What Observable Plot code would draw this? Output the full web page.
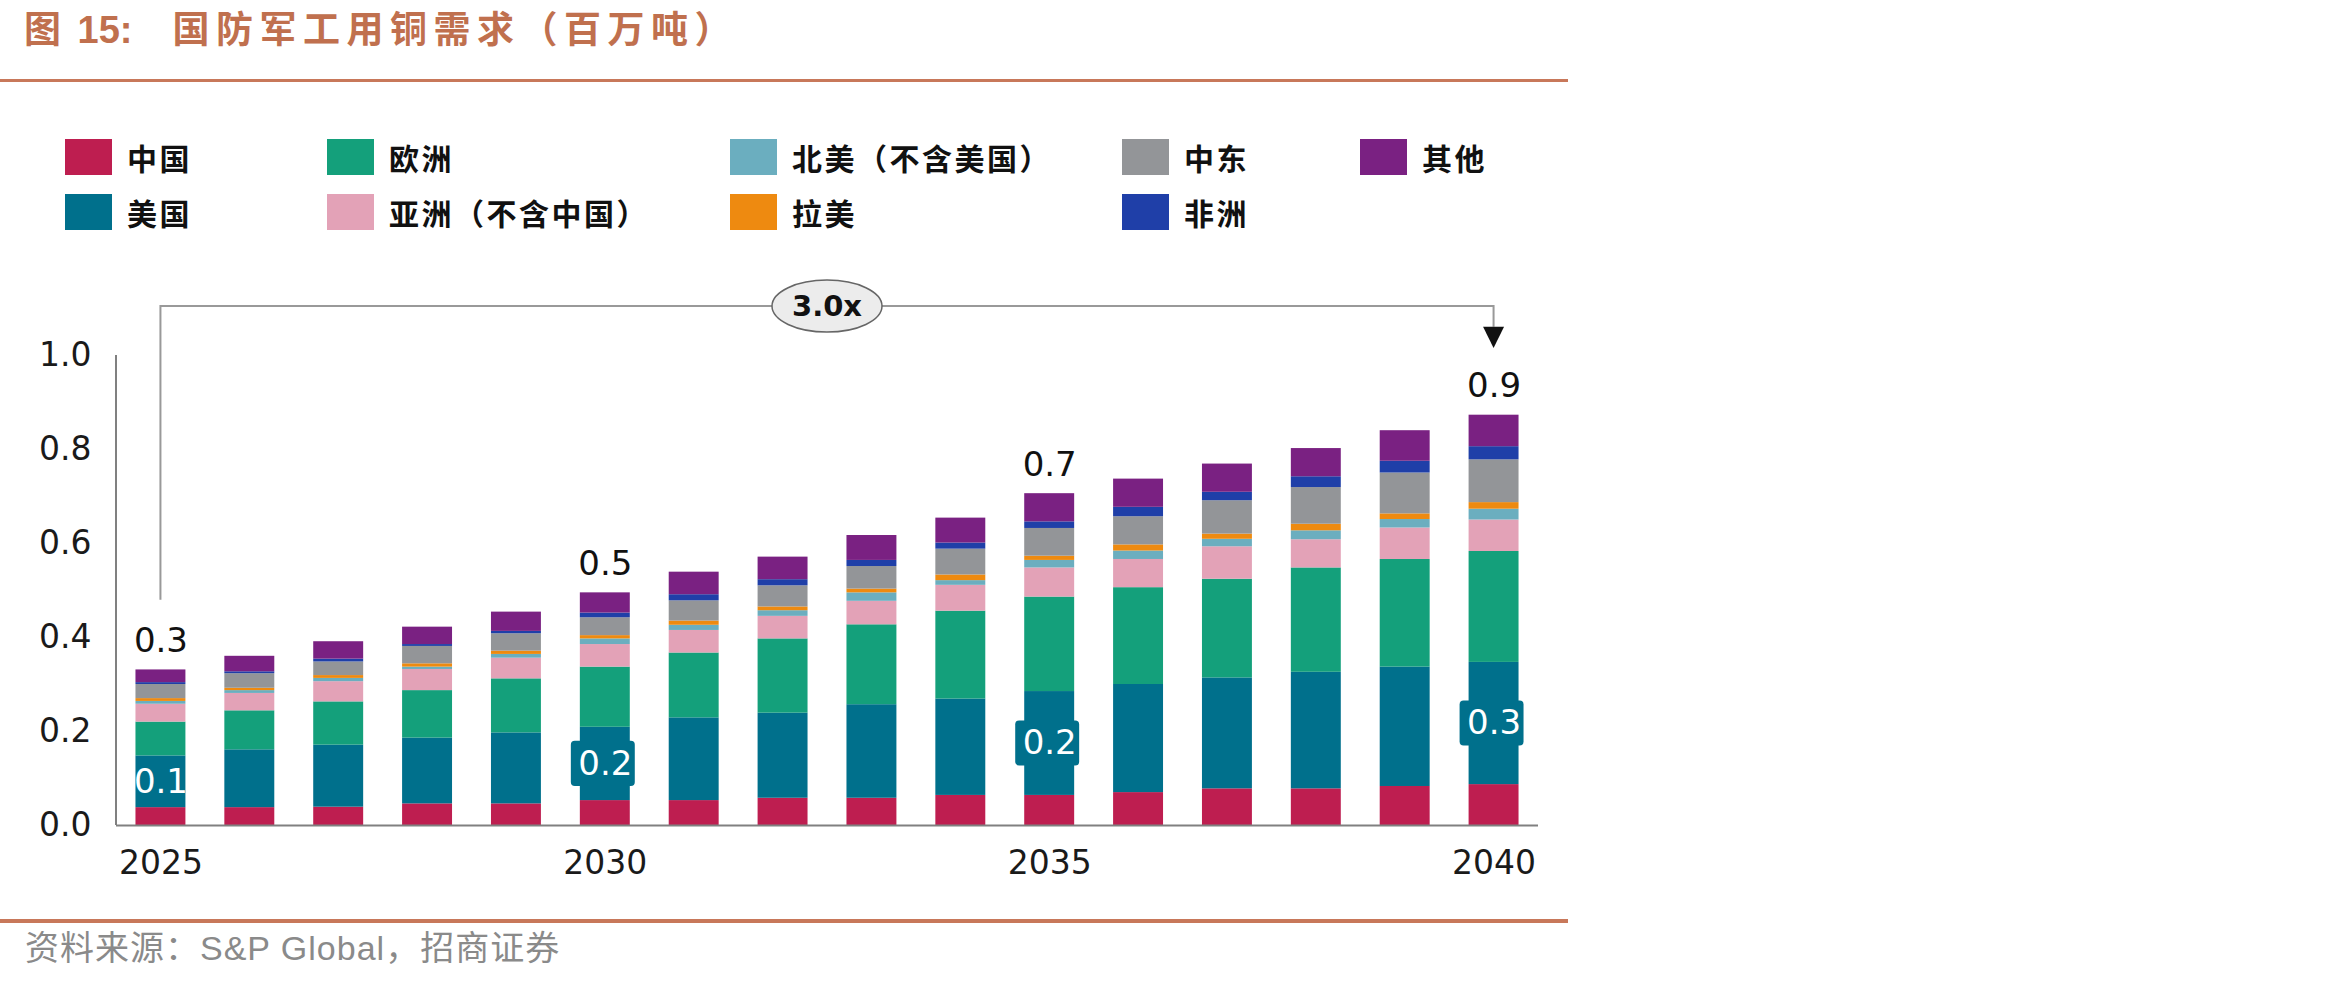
<!DOCTYPE html>
<html><head><meta charset="utf-8">
<script src="https://cdn.jsdelivr.net/npm/d3@7"></script>
<script src="https://cdn.jsdelivr.net/npm/@observablehq/plot@0.6"></script>
<style>
body{margin:0;background:#fff;}
#page{position:relative;width:2350px;height:981px;overflow:hidden;background:#fff;}
.title{position:absolute;left:24px;top:6px;font-family:"Noto Sans CJK SC";font-weight:700;font-size:37px;line-height:42px;letter-spacing:6.5px;color:#C0704E;white-space:nowrap;}
.title .num{font-family:"Liberation Sans";font-weight:700;letter-spacing:0;font-size:38px;margin-left:10px;margin-right:40px;}
.rule{position:absolute;left:0;width:1568px;background:#C8785A;}
.legend-item{position:absolute;display:flex;align-items:center;height:36px;}
.sw{width:47px;height:36px;flex:none;}
.lt{font-family:"Noto Sans CJK SC";font-weight:700;font-size:30px;line-height:36px;letter-spacing:2.5px;color:#111;white-space:nowrap;margin-left:15px;}
.source{position:absolute;left:25px;top:929px;font-family:"Liberation Sans","Noto Sans CJK SC";font-size:34px;line-height:38px;letter-spacing:1px;color:#8a8a8a;white-space:nowrap;}
#chart{position:absolute;left:0;top:250px;}
</style></head>
<body>
<div id="page">
  <div class="title" id="title"></div>
  <div class="rule" style="top:79px;height:3px;"></div>
  <div id="legend"></div>
  <div id="chart"></div>
  <div class="rule" style="top:919px;height:4px;"></div>
  <div class="source" id="source"></div>
</div>
<script>
// ---------- data ----------
const titlePrefix = "图", titleNumber = "15:", titleMain = "国防军工用铜需求（百万吨）";
const sourceText = "资料来源：S&P Global，招商证券";
const years = ["2025","2026","2027","2028","2029","2030","2031","2032","2033","2034","2035","2036","2037","2038","2039","2040"];
const regions = ["中国","美国","欧洲","亚洲（不含中国）","北美（不含美国）","拉美","中东","非洲","其他"];
const colors = ["#BE1E50","#00708C","#14A07B","#E3A2B7","#6BAEBF","#EE8A10","#939598","#1F3FA8","#7A2182"];
const china       = [0.038,0.038,0.039,0.046,0.046,0.053,0.053,0.058,0.058,0.064,0.064,0.070,0.078,0.078,0.083,0.087];
const usa         = [0.110,0.123,0.132,0.140,0.151,0.156,0.176,0.181,0.199,0.205,0.221,0.230,0.236,0.248,0.254,0.260];
const europe      = [0.072,0.083,0.092,0.101,0.115,0.128,0.138,0.158,0.170,0.187,0.201,0.206,0.210,0.222,0.229,0.236];
const asiaExChina = [0.038,0.037,0.043,0.045,0.044,0.048,0.048,0.048,0.050,0.055,0.062,0.060,0.069,0.060,0.067,0.067];
const naExUS      = [0.006,0.006,0.007,0.005,0.008,0.012,0.011,0.012,0.018,0.010,0.016,0.018,0.016,0.019,0.018,0.023];
const latam       = [0.006,0.005,0.006,0.007,0.007,0.007,0.009,0.008,0.008,0.012,0.009,0.013,0.011,0.014,0.012,0.014];
const middleEast  = [0.030,0.031,0.029,0.037,0.037,0.038,0.043,0.045,0.048,0.055,0.059,0.060,0.071,0.078,0.087,0.091];
const africa      = [0.004,0.004,0.006,0.004,0.005,0.010,0.013,0.013,0.013,0.013,0.014,0.020,0.018,0.023,0.025,0.028];
const other       = [0.027,0.033,0.037,0.037,0.041,0.043,0.048,0.048,0.053,0.053,0.060,0.060,0.060,0.060,0.065,0.067];
const labeledYears = ["2025","2030","2035","2040"];
const boxedYears = ["2030","2035","2040"];
const xTicks = ["2025","2030","2035","2040"];
const yTicks = [0,0.2,0.4,0.6,0.8,1.0];
const growthLabel = "3.0x";
const growthFrom = "2025", growthTo = "2040";

// ---------- build tables ----------
const series = [china, usa, europe, asiaExChina, naExUS, latam, middleEast, africa, other];
const rows = years.flatMap((y, i) => regions.map((r, j) => ({year: y, region: r, value: series[j][i]})));
const totals = years.map((y, i) => ({year: y, total: d3.sum(series, s => s[i]), china: china[i], us: usa[i]}));
const fmt = d3.format(".1f");

// ---------- title, legend, source ----------
const titleEl = document.getElementById("title");
titleEl.appendChild(document.createTextNode(titlePrefix));
const num = document.createElement("span"); num.className = "num"; num.textContent = titleNumber;
titleEl.appendChild(num);
titleEl.appendChild(document.createTextNode(titleMain));
document.getElementById("source").textContent = sourceText;
const legendCols = [65, 327, 730, 1122, 1360], legendRows = [139, 194];
const legend = document.getElementById("legend");
regions.forEach((r, k) => {
  const item = document.createElement("div");
  item.className = "legend-item";
  item.style.left = legendCols[Math.floor(k / 2)] + "px";
  item.style.top = legendRows[k % 2] + "px";
  const sw = document.createElement("div"); sw.className = "sw"; sw.style.background = colors[k];
  const t = document.createElement("div"); t.className = "lt"; t.textContent = r;
  item.appendChild(sw); item.appendChild(t); legend.appendChild(item);
});

// ---------- chart ----------
const usMid = d => d.china + d.us / 2;
const boxHalf = 0.048;
const plot = Plot.plot({
  width: 1600, height: 650,
  marginTop: 105, marginBottom: 75, marginLeft: 116, marginRight: 62,
  style: {fontFamily: "DejaVu Sans", fontSize: "33px", color: "#1a1a1a", background: "transparent", overflow: "visible"},
  x: {type: "band", domain: years, paddingInner: 0.438, paddingOuter: 0.219, round: false,
      ticks: xTicks, tickSize: 0, tickPadding: 25, label: null},
  y: {domain: [0, 1], ticks: yTicks, tickFormat: fmt, tickSize: 0, tickPadding: 25, label: null},
  color: {domain: regions, range: colors},
  marks: [
    Plot.barY(rows, {x: "year", y: "value", fill: "region", order: regions}),
    Plot.ruleY([0], {stroke: "#808080", strokeWidth: 2}),
    Plot.barY(totals.filter(d => boxedYears.includes(d.year)), {
      x: "year", y1: d => usMid(d) - boxHalf, y2: d => usMid(d) + boxHalf,
      fill: colors[1], insetLeft: -9, insetRight: -5, rx: 4}),
    Plot.text(totals.filter(d => labeledYears.includes(d.year)), {
      x: "year", y: usMid, text: d => fmt(d.us), fill: "white", fontSize: 34}),
    Plot.text(totals.filter(d => labeledYears.includes(d.year)), {
      x: "year", y: "total", text: d => fmt(d.total), dy: -29, fill: "#111", fontSize: 34})
  ]
});
document.getElementById("chart").appendChild(plot);

// ---------- axis line and growth bracket (from Plot's scales) ----------
const xs = plot.scale("x"), ys = plot.scale("y");
const cx = y => xs.apply(y) + xs.bandwidth / 2;
const svg = d3.select(plot.tagName.toLowerCase() === "svg" ? plot : plot.querySelector("svg"));
svg.append("line")
  .attr("x1", xs.range[0]).attr("x2", xs.range[0])
  .attr("y1", ys.apply(1)).attr("y2", ys.apply(0))
  .attr("stroke", "#808080").attr("stroke-width", 2);

const bracketBottom = 0.479, bracketTop = 1.104, arrowBase = 1.06, arrowTip = 1.015;
const xa = cx(growthFrom), xb = cx(growthTo);
const g = svg.append("g");
g.append("path")
  .attr("d", `M${xa},${ys.apply(bracketBottom)}V${ys.apply(bracketTop)}H${xb}V${ys.apply(arrowBase)}`)
  .attr("fill", "none").attr("stroke", "#999").attr("stroke-width", 2);
const yb = ys.apply(arrowBase), yt = ys.apply(arrowTip);
g.append("path")
  .attr("d", `M${xb - 10.5},${yb}L${xb + 10.5},${yb}L${xb},${yt}Z`)
  .attr("fill", "#111");
const ex = (xa + xb) / 2, ey = ys.apply(bracketTop);
g.append("ellipse").attr("cx", ex).attr("cy", ey).attr("rx", 55).attr("ry", 26)
  .attr("fill", "#ececec").attr("stroke", "#666").attr("stroke-width", 1.5);
g.append("text").attr("x", ex).attr("y", ey).attr("text-anchor", "middle")
  .attr("dominant-baseline", "central")
  .attr("font-family", "DejaVu Sans").attr("font-weight", "bold").attr("font-size", 29)
  .attr("fill", "#111").text(growthLabel);
</script>
</body></html>
